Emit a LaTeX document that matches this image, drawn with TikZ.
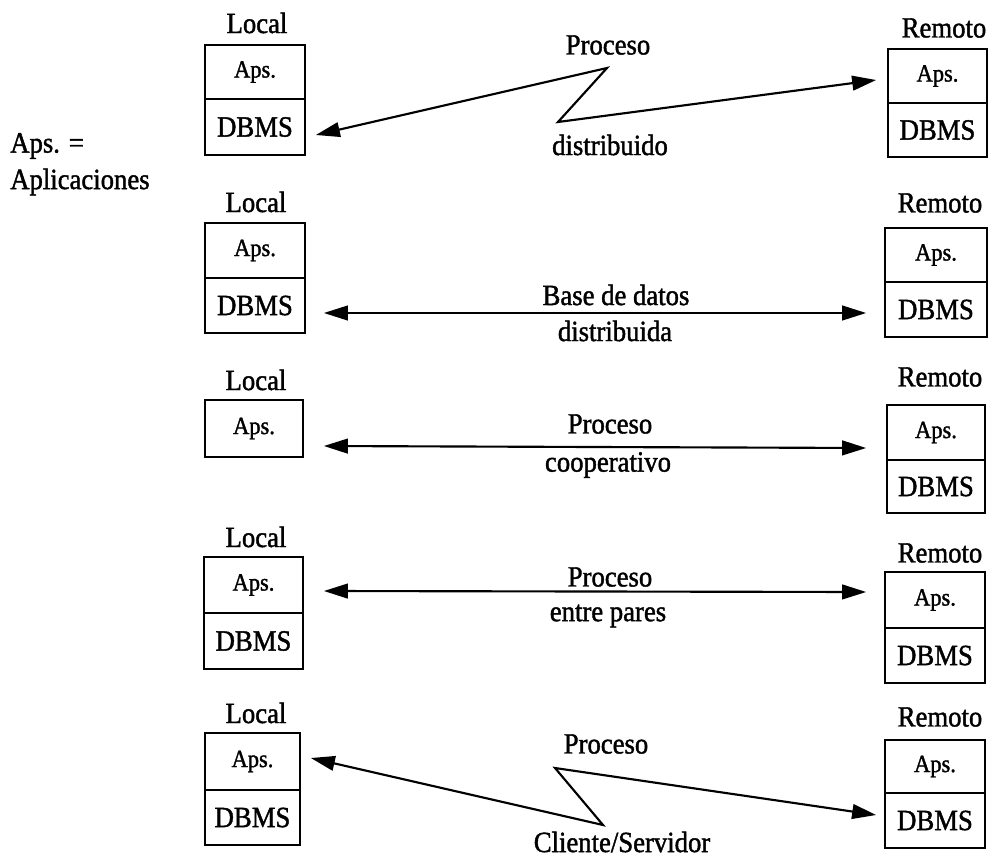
\documentclass[tikz,border=0pt]{standalone}
\usepackage{fontspec}
\setmainfont[FakeStretch=0.91,FakeBold=1.4]{Liberation Serif}
\usetikzlibrary{arrows.meta,calc}
\begin{document}
\begin{tikzpicture}[x=0.75pt,y=-0.75pt,
  cell/.style={draw, line width=1.3pt, inner sep=0pt, font=\fontsize{18.5}{21}\selectfont},
  dbcell/.style={cell, font=\fontsize{22}{25}\selectfont},
  lbl/.style={inner sep=0pt, font=\fontsize{22}{25}\selectfont},
  tip/.tip={Triangle[length=18pt,width=11pt]},
  link/.style={line width=1.6pt, tip-tip, line join=miter}
]
\useasboundingbox (0,0) rectangle (994,859);

% legend
\node[lbl, anchor=west] (key1) at (10,146) {Aps. =};
\node[lbl, anchor=west] (key2) at (10,182) {Aplicaciones};

% row 1: distributed process
\node[lbl] (loc1) at (257,23) {Local};
\node[cell, minimum width=75pt, minimum height=40.5pt] (L1a) at (255,72) {Aps.};
\node[dbcell, minimum width=75pt, minimum height=42pt] (L1d) at (255,127) {DBMS};
\node[lbl] (rem1) at (944,28) {Remoto};
\node[cell, minimum width=74.25pt, minimum height=40.5pt] (R1a) at (937.5,76) {Aps.};
\node[dbcell, minimum width=74.25pt, minimum height=40.5pt] (R1d) at (937.5,130) {DBMS};
\node[lbl] (t1a) at (608,45) {Proceso};
\node[lbl] (t1b) at (610,145) {distribuido};
\coordinate (z1t) at (607,68);
\coordinate (z1b) at (558,122);
\draw[link] ($(L1d.east)+(10,8)$) -- (z1t) -- (z1b) -- ($(R1a.west)+(-11,4)$);

% row 2: distributed database
\node[lbl] (loc2) at (256,202) {Local};
\node[cell, minimum width=75pt, minimum height=41.25pt] (L2a) at (255,250.5) {Aps.};
\node[dbcell, minimum width=75pt, minimum height=41.25pt] (L2d) at (255,305.5) {DBMS};
\node[lbl] (rem2) at (940,203) {Remoto};
\node[cell, minimum width=76.5pt, minimum height=40.5pt] (R2a) at (936,255) {Aps.};
\node[dbcell, minimum width=76.5pt, minimum height=41.25pt] (R2d) at (936,309.5) {DBMS};
\node[lbl] (t2a) at (616,295) {Base de datos};
\node[lbl] (t2b) at (615,331) {distribuida};
\draw[link] ($(L2d.east)+(18,7.5)$) -- ($(R2d.west)+(-18,3.5)$);

% row 3: cooperative process
\node[lbl] (loc3) at (256,380) {Local};
\node[cell, minimum width=73.5pt, minimum height=42.75pt] (L3a) at (254,428.5) {Aps.};
\node[lbl] (rem3) at (940,377) {Remoto};
\node[cell, minimum width=73.5pt, minimum height=41.25pt] (R3a) at (936,432.5) {Aps.};
\node[dbcell, minimum width=73.5pt, minimum height=39.75pt] (R3d) at (936,486.5) {DBMS};
\node[lbl] (t3a) at (610,424) {Proceso};
\node[lbl] (t3b) at (608,465) {cooperativo};
\draw[link] ($(L3a.east)+(20,17.5)$) -- ($(R3a.west)+(-20,15.5)$);

% row 4: peer-to-peer process
\node[lbl] (loc4) at (256,537) {Local};
\node[cell, minimum width=74.25pt, minimum height=42pt] (L4a) at (253.5,585) {Aps.};
\node[dbcell, minimum width=74.25pt, minimum height=42pt] (L4d) at (253.5,641) {DBMS};
\node[lbl] (rem4) at (940,553) {Remoto};
\node[cell, minimum width=75pt, minimum height=42pt] (R4a) at (935,600) {Aps.};
\node[dbcell, minimum width=75pt, minimum height=41.25pt] (R4d) at (935,655.5) {DBMS};
\node[lbl] (t4a) at (610,577) {Proceso};
\node[lbl] (t4b) at (608,616) {entre pares};
\draw[link] ($(L4a.east)+(20,6)$) -- ($(R4a.west)+(-18,-8)$);

% row 5: client/server process
\node[lbl] (loc5) at (256,713) {Local};
\node[cell, minimum width=71.25pt, minimum height=42.75pt] (L5a) at (252.5,761.5) {Aps.};
\node[dbcell, minimum width=71.25pt, minimum height=41.25pt] (L5d) at (252.5,817.5) {DBMS};
\node[lbl] (rem5) at (940,717) {Remoto};
\node[cell, minimum width=75pt, minimum height=39.75pt] (R5a) at (935,766.5) {Aps.};
\node[dbcell, minimum width=75pt, minimum height=41.25pt] (R5d) at (935,820.5) {DBMS};
\node[lbl] (t5a) at (606,744) {Proceso};
\node[lbl] (t5b) at (622,842) {Cliente/Servidor};
\coordinate (z5a) at (555,768);
\coordinate (z5b) at (603,825);
\draw[link] ($(L5a.east)+(10,-3.5)$) -- (z5b) -- (z5a) -- ($(R5d.west)+(-8,-5.5)$);
\end{tikzpicture}
\end{document}
